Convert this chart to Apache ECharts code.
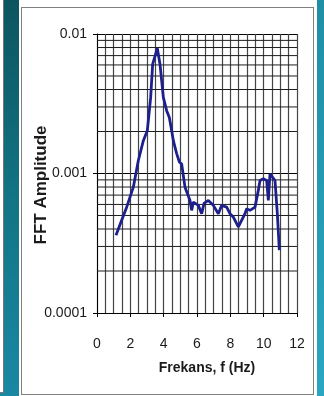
<!DOCTYPE html>
<html>
<head>
<meta charset="utf-8">
<script src="https://cdn.jsdelivr.net/npm/echarts@6/dist/echarts.min.js"></script>
<style>
html,body{margin:0;padding:0;width:324px;height:396px;overflow:hidden;}
body{position:relative;background:linear-gradient(to bottom,#0c5560 0%,#127484 50%,#1a88a4 100%);}
#leftPanel{position:absolute;left:0;top:0;width:3px;height:392px;background:#fff;border-right:1px solid #777;border-bottom:1px solid #777;}
#rightTeal{position:absolute;left:317px;top:0;width:7px;height:396px;background:linear-gradient(to bottom,#1f8fa5,#2aa6c2);}
#panel{position:absolute;left:19px;top:0;width:298px;height:396px;background:#fff;}
#frame{position:absolute;left:21px;top:7px;width:291px;height:386px;border:1px solid #808080;}
#chart{position:absolute;left:0;top:0;width:324px;height:396px;}
</style>
</head>
<body>
<div id="leftPanel"></div>
<div id="rightTeal"></div>
<div id="panel"></div>
<div id="frame"></div>
<div id="chart"></div>
<script>
// Data
const freqHz = [1.14,1.48,1.78,2.18,2.48,2.78,3.02,3.22,3.34,3.62,3.78,3.98,4.18,4.34,4.48,4.58,4.78,4.94,5.08,5.28,5.58,5.68,5.78,6.08,6.28,6.42,6.68,6.98,7.28,7.48,7.78,7.98,8.18,8.48,8.58,8.88,8.98,9.18,9.48,9.68,9.78,9.98,10.18,10.28,10.38,10.48,10.68,10.82,10.94];
const fftAmplitude = [0.000361,0.000462,0.000574,0.000798,0.00124,0.00172,0.00203,0.00351,0.00608,0.00791,0.00608,0.00351,0.00282,0.00252,0.00203,0.00172,0.00139,0.00121,0.00117,0.000798,0.000641,0.000544,0.000624,0.000591,0.000515,0.00061,0.000641,0.000591,0.000515,0.000591,0.000574,0.000515,0.000487,0.000414,0.000424,0.000515,0.00056,0.000544,0.000574,0.000757,0.000891,0.000916,0.000891,0.000641,0.000995,0.00102,0.000891,0.000515,0.000282];
const xTickLabels = ['0','2','4','6','8','10','12'];
const yTickLabels = {'0.0001':'0.0001','0.001':'0.001','0.01':'0.01'};
const yMinorGrid = [0.0002,0.0003,0.0004,0.0005,0.0006,0.0007,0.0008,0.0009,0.002,0.003,0.004,0.005,0.006,0.007,0.008,0.009];
const xTitle = 'Frekans, f (Hz)';
const yTitle = 'FFT Amplitude';

const chart = echarts.init(document.getElementById('chart'), null, {renderer:'canvas'});
const FONT = 'Liberation Sans, Arial, sans-serif';
const points = freqHz.map((f,i)=>[f, fftAmplitude[i]]);
const X_MIN = 0, X_MAX = 12;

const gridSeries = yMinorGrid.map(v => ({
  type: 'line', data: [[X_MIN, v], [X_MAX, v]], z: 1, silent: true,
  showSymbol: false, symbol: 'none', animation: false,
  lineStyle: {color: '#1e1e1e', width: 1}
}));

chart.setOption({
  backgroundColor: 'transparent',
  animation: false,
  grid: {left: 97, top: 34, right: 27, bottom: 83, containLabel: false},
  xAxis: {
    type: 'value', min: X_MIN, max: X_MAX, interval: 2,
    axisLine: {show: true, onZero: false, lineStyle: {color: '#000', width: 1}},
    axisTick: {show: true, inside: false, length: 4, lineStyle: {color: '#000'}},
    axisLabel: {margin: 24, color: '#1a1a1a', fontSize: 14, fontFamily: FONT,
      formatter: v => xTickLabels[Math.round(v/2)] ?? ''},
    splitLine: {show: true, lineStyle: {color: '#444', width: 1.2}},
    minorTick: {show: false, splitNumber: 4},
    minorSplitLine: {show: true, lineStyle: {color: '#444', width: 1.2}}
  },
  yAxis: {
    type: 'log', logBase: 10, min: 0.0001, max: 0.01,
    axisLine: {show: true, lineStyle: {color: '#000', width: 1}},
    axisTick: {show: true, length: 4, lineStyle: {color: '#000'}},
    axisLabel: {margin: 10, color: '#1a1a1a', fontSize: 14, fontFamily: FONT,
      formatter: v => {
        const k = Object.keys(yTickLabels).find(s => Math.abs(Number(s)-v) < v*1e-6);
        return k ? yTickLabels[k] : '';
      }},
    splitLine: {show: true, lineStyle: {color: '#000', width: 1}}
  },
  graphic: [
    {type: 'text', x: 41, y: 185, rotation: Math.PI/2, z: 10,
      style: {text: yTitle, font: 'bold 17px ' + FONT, fill: '#1a1a1a', align: 'center', verticalAlign: 'middle'}},
    {type: 'text', x: 207, y: 368, z: 10,
      style: {text: xTitle, font: 'bold 14px ' + FONT, fill: '#1a1a1a', align: 'center', verticalAlign: 'middle'}}
  ],
  series: gridSeries.concat([
    {
      type: 'line', data: points, z: 5,
      showSymbol: false, smooth: false,
      lineStyle: {color: '#1c1f8c', width: 2.8},
      itemStyle: {color: '#1c1f8c'}
    }
  ])
});
</script>
</body>
</html>
